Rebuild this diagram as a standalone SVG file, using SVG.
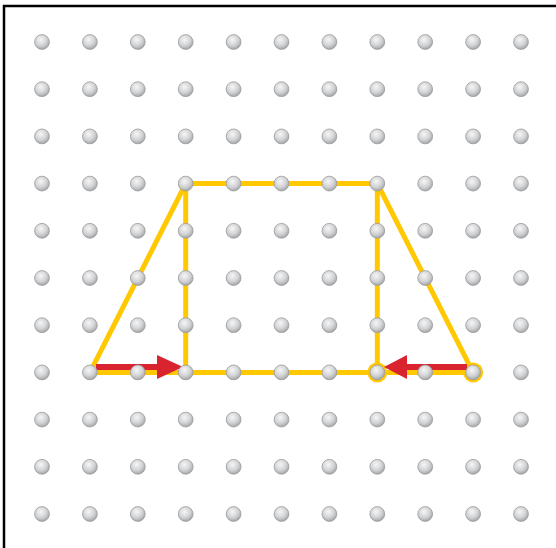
<svg xmlns="http://www.w3.org/2000/svg" xmlns:xlink="http://www.w3.org/1999/xlink" width="556" height="548" viewBox="0 0 556 548">
<style>
.frame{fill:none;stroke:#000;stroke-width:2.5}
.edge{fill:none;stroke:#FFC800;stroke-width:5;stroke-linejoin:miter;stroke-linecap:butt}
.ring{fill:#FFC800}
.arrow{fill:none;stroke:#D9232E;stroke-width:6}
.head{fill:#D9232E}
.dot{fill:url(#g);stroke:#9a9a9a;stroke-width:0.8}
</style>
<defs>
<radialGradient id="g" cx="0.42" cy="0.35" r="0.65">
<stop offset="0" stop-color="#f6f6f6"/>
<stop offset="0.6" stop-color="#d2d3d5"/>
<stop offset="1" stop-color="#a4a6a9"/>
</radialGradient>
<circle id="d" r="7.4" class="dot"/>
</defs>
<rect x="0" y="0" width="556" height="548" fill="#fff"/>
<path class="frame" d="M4,548 V6 H556"/>
<g id="connectors">
<path id="trapezoid" class="edge" d="M90,372.4 L185.7,183.6 L377.3,183.6 L473.1,372.4 Z"/>
<line id="v-left" class="edge" x1="185.7" y1="183.6" x2="185.7" y2="372.4"/>
<line id="v-right" class="edge" x1="377.3" y1="183.6" x2="377.3" y2="372.4"/>
<circle class="ring" cx="377.3" cy="372.4" r="10"/>
<circle class="ring" cx="473.1" cy="372.4" r="10"/>
<g id="arrow-left">
<line class="arrow" x1="96" y1="367" x2="160" y2="367"/>
<polygon class="head" points="157,355 183,367 157,379"/>
</g>
<g id="arrow-right">
<line class="arrow" x1="467" y1="367" x2="404" y2="367"/>
<polygon class="head" points="407,355 384,367 407,379"/>
</g>
</g>
<g id="grid">
<g id="row0"><use href="#d" x="42" y="42"/><use href="#d" x="89.9" y="42"/><use href="#d" x="137.8" y="42"/><use href="#d" x="185.7" y="42"/><use href="#d" x="233.6" y="42"/><use href="#d" x="281.5" y="42"/><use href="#d" x="329.4" y="42"/><use href="#d" x="377.3" y="42"/><use href="#d" x="425.2" y="42"/><use href="#d" x="473.1" y="42"/><use href="#d" x="521" y="42"/></g>
<g id="row1"><use href="#d" x="42" y="89.2"/><use href="#d" x="89.9" y="89.2"/><use href="#d" x="137.8" y="89.2"/><use href="#d" x="185.7" y="89.2"/><use href="#d" x="233.6" y="89.2"/><use href="#d" x="281.5" y="89.2"/><use href="#d" x="329.4" y="89.2"/><use href="#d" x="377.3" y="89.2"/><use href="#d" x="425.2" y="89.2"/><use href="#d" x="473.1" y="89.2"/><use href="#d" x="521" y="89.2"/></g>
<g id="row2"><use href="#d" x="42" y="136.4"/><use href="#d" x="89.9" y="136.4"/><use href="#d" x="137.8" y="136.4"/><use href="#d" x="185.7" y="136.4"/><use href="#d" x="233.6" y="136.4"/><use href="#d" x="281.5" y="136.4"/><use href="#d" x="329.4" y="136.4"/><use href="#d" x="377.3" y="136.4"/><use href="#d" x="425.2" y="136.4"/><use href="#d" x="473.1" y="136.4"/><use href="#d" x="521" y="136.4"/></g>
<g id="row3"><use href="#d" x="42" y="183.6"/><use href="#d" x="89.9" y="183.6"/><use href="#d" x="137.8" y="183.6"/><use href="#d" x="185.7" y="183.6"/><use href="#d" x="233.6" y="183.6"/><use href="#d" x="281.5" y="183.6"/><use href="#d" x="329.4" y="183.6"/><use href="#d" x="377.3" y="183.6"/><use href="#d" x="425.2" y="183.6"/><use href="#d" x="473.1" y="183.6"/><use href="#d" x="521" y="183.6"/></g>
<g id="row4"><use href="#d" x="42" y="230.8"/><use href="#d" x="89.9" y="230.8"/><use href="#d" x="137.8" y="230.8"/><use href="#d" x="185.7" y="230.8"/><use href="#d" x="233.6" y="230.8"/><use href="#d" x="281.5" y="230.8"/><use href="#d" x="329.4" y="230.8"/><use href="#d" x="377.3" y="230.8"/><use href="#d" x="425.2" y="230.8"/><use href="#d" x="473.1" y="230.8"/><use href="#d" x="521" y="230.8"/></g>
<g id="row5"><use href="#d" x="42" y="278"/><use href="#d" x="89.9" y="278"/><use href="#d" x="137.8" y="278"/><use href="#d" x="185.7" y="278"/><use href="#d" x="233.6" y="278"/><use href="#d" x="281.5" y="278"/><use href="#d" x="329.4" y="278"/><use href="#d" x="377.3" y="278"/><use href="#d" x="425.2" y="278"/><use href="#d" x="473.1" y="278"/><use href="#d" x="521" y="278"/></g>
<g id="row6"><use href="#d" x="42" y="325.2"/><use href="#d" x="89.9" y="325.2"/><use href="#d" x="137.8" y="325.2"/><use href="#d" x="185.7" y="325.2"/><use href="#d" x="233.6" y="325.2"/><use href="#d" x="281.5" y="325.2"/><use href="#d" x="329.4" y="325.2"/><use href="#d" x="377.3" y="325.2"/><use href="#d" x="425.2" y="325.2"/><use href="#d" x="473.1" y="325.2"/><use href="#d" x="521" y="325.2"/></g>
<g id="row7"><use href="#d" x="42" y="372.4"/><use href="#d" x="89.9" y="372.4"/><use href="#d" x="137.8" y="372.4"/><use href="#d" x="185.7" y="372.4"/><use href="#d" x="233.6" y="372.4"/><use href="#d" x="281.5" y="372.4"/><use href="#d" x="329.4" y="372.4"/><use href="#d" x="377.3" y="372.4"/><use href="#d" x="425.2" y="372.4"/><use href="#d" x="473.1" y="372.4"/><use href="#d" x="521" y="372.4"/></g>
<g id="row8"><use href="#d" x="42" y="419.6"/><use href="#d" x="89.9" y="419.6"/><use href="#d" x="137.8" y="419.6"/><use href="#d" x="185.7" y="419.6"/><use href="#d" x="233.6" y="419.6"/><use href="#d" x="281.5" y="419.6"/><use href="#d" x="329.4" y="419.6"/><use href="#d" x="377.3" y="419.6"/><use href="#d" x="425.2" y="419.6"/><use href="#d" x="473.1" y="419.6"/><use href="#d" x="521" y="419.6"/></g>
<g id="row9"><use href="#d" x="42" y="466.8"/><use href="#d" x="89.9" y="466.8"/><use href="#d" x="137.8" y="466.8"/><use href="#d" x="185.7" y="466.8"/><use href="#d" x="233.6" y="466.8"/><use href="#d" x="281.5" y="466.8"/><use href="#d" x="329.4" y="466.8"/><use href="#d" x="377.3" y="466.8"/><use href="#d" x="425.2" y="466.8"/><use href="#d" x="473.1" y="466.8"/><use href="#d" x="521" y="466.8"/></g>
<g id="row10"><use href="#d" x="42" y="514"/><use href="#d" x="89.9" y="514"/><use href="#d" x="137.8" y="514"/><use href="#d" x="185.7" y="514"/><use href="#d" x="233.6" y="514"/><use href="#d" x="281.5" y="514"/><use href="#d" x="329.4" y="514"/><use href="#d" x="377.3" y="514"/><use href="#d" x="425.2" y="514"/><use href="#d" x="473.1" y="514"/><use href="#d" x="521" y="514"/></g>
</g>
</svg>
